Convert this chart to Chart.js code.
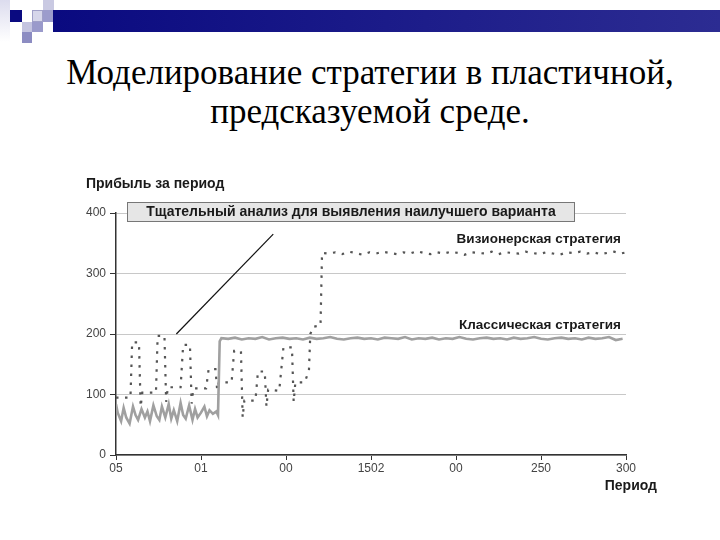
<!DOCTYPE html>
<html><head><meta charset="utf-8">
<script src="https://cdn.jsdelivr.net/npm/chart.js@4"></script>
<style>
html,body{margin:0;padding:0;background:#fff;width:720px;height:540px;overflow:hidden;position:relative;font-family:"Liberation Sans",Arial,sans-serif}
#wrap{position:absolute;left:0;top:0;width:720px;height:540px}
.sq{position:absolute}
#title{position:absolute;left:0;top:53px;width:740px;text-align:center;font-family:"Liberation Serif","Times New Roman",serif;font-size:35px;line-height:39px;color:#000}
</style></head>
<body>
<div class="sq" style="left:0;top:0;width:10px;height:42px;background:linear-gradient(#dcdcee,#ffffff)"></div>
<div class="sq" style="left:53px;top:10px;width:667px;height:22px;background:linear-gradient(90deg,#0a0a80,#2c2c92)"></div>
<div class="sq" style="left:10px;top:10px;width:12px;height:12px;background:#0a0a80"></div>
<div class="sq" style="left:43px;top:0;width:11px;height:10px;background:#c9c9e2"></div>
<div class="sq" style="left:32px;top:10px;width:11px;height:12px;background:#d6d6ea;box-sizing:border-box;border:1px solid #a0a0c8"></div>
<div class="sq" style="left:43px;top:10px;width:10px;height:12px;background:#9c9ccc"></div>
<div class="sq" style="left:22px;top:22px;width:10px;height:10px;background:#c4c4e0"></div>
<div class="sq" style="left:32px;top:22px;width:11px;height:10px;background:#9a9acb"></div>
<div class="sq" style="left:22px;top:32px;width:10px;height:11px;background:#8c8cc2"></div>
<div id="title">Моделирование стратегии в пластичной,<br>предсказуемой среде.</div>
<div id="wrap"><canvas id="c" width="720" height="540"></canvas></div>
<script>
const xTickLabels = ["05","01","00","1502","00","250","300"];
const yTickLabels = ["0","100","200","300","400"];

const classicX = [0,1,3,4.5,6,8,10,11.5,13,15,17,18.5,20,22,24,25.5,27,29,31,32.5,34,36,38,39.5,41,43,45,46.5,48,50,52,53.5,55,57,59,60,61,62,
66,70,74,78,82,86,90,94,98,102,106,110,114,118,122,126,130,134,138,142,146,150,154,158,162,166,170,174,178,182,186,190,194,198,202,206,210,214,218,222,226,230,234,238,242,246,250,254,258,262,266,270,274,278,282,286,290,294,298,300];
const classicY = [84,70,56,78,62,52,80,66,58,76,62,72,56,82,64,58,80,62,84,60,74,56,86,66,60,82,58,76,62,70,80,64,74,68,72,66,188,193,
192,194,191,193,192,195,191,193,194,192,193,191,194,192,193,195,192,191,193,194,192,193,191,194,193,192,195,191,193,192,194,191,193,192,195,192,191,193,194,192,193,191,194,192,193,195,192,191,193,194,192,193,191,194,192,193,195,190,192];

const visionX = [0,8.5,9.5,13.5,14.5,15.5,23.5,24.5,28.5,29.5,30.5,38,39.5,43.5,44.5,45.5,53,54.5,58.5,59.5,60.5,68,69.5,73.5,74.5,75.5,82,83.5,87.5,88.5,89.5,96,98.5,103.5,104.5,105.5,111,113.5,114.3,116,120.3,121.2,
125,129,133,137,141,145,149,153,157,161,165,169,173,177,181,185,189,193,197,201,205,209,213,217,221,225,229,233,237,241,245,249,253,257,261,265,269,273,277,281,285,289,293,297,300];
const visionY = [95,95,186,186,80,103,103,197,197,88,112,112,182,182,85,110,110,142,142,108,120,120,172,172,62,90,90,138,138,80,108,106,178,178,88,120,120,140,200,212,214,334,
333,335,332,336,334,331,335,333,336,334,332,335,333,337,334,332,335,333,336,334,331,335,334,333,336,332,335,334,333,336,334,332,335,333,331,335,334,336,333,335,332,334,336,333,335,334];

const annotLine = {x1:35.5, y1:200, x2:92.5, y2:365};

function pts(xs, ys){ return xs.map((x,i)=>({x:x,y:ys[i]})); }

const annot = {
  id:'annot',
  afterDatasetsDraw(chart){
    const ctx = chart.ctx, xs = chart.scales.x, ys = chart.scales.y;
    ctx.save();
    ctx.strokeStyle = '#111'; ctx.lineWidth = 1.2;
    ctx.beginPath();
    ctx.moveTo(xs.getPixelForValue(annotLine.x1), ys.getPixelForValue(annotLine.y1));
    ctx.lineTo(xs.getPixelForValue(annotLine.x2), ys.getPixelForValue(annotLine.y2));
    ctx.stroke();
    ctx.fillStyle = '#e6e6e6'; ctx.strokeStyle = '#777'; ctx.lineWidth = 1;
    ctx.fillRect(127.5, 202.5, 447, 19);
    ctx.strokeRect(127.5, 202.5, 447, 19);
    ctx.fillStyle = '#1a1a1a';
    ctx.font = 'bold 14px "Liberation Sans", Arial, sans-serif';
    ctx.textAlign = 'center'; ctx.textBaseline = 'middle';
    ctx.fillText('Тщательный анализ для выявления наилучшего варианта', 351, 212.5);
    ctx.textAlign = 'right';
    ctx.font = 'bold 13.5px "Liberation Sans", Arial, sans-serif';
    ctx.fillText('Визионерская стратегия', 621, 239);
    ctx.fillText('Классическая стратегия', 621, 325);
    ctx.textAlign = 'left';
    ctx.font = 'bold 14px "Liberation Sans", Arial, sans-serif';
    ctx.fillText('Прибыль за период', 86, 184);
    ctx.textAlign = 'right';
    ctx.fillText('Период', 657, 486);
    ctx.restore();
  }
};

new Chart(document.getElementById('c'), {
  type:'line',
  data:{datasets:[
    {label:'Классическая стратегия', data:pts(classicX,classicY), borderColor:'#a0a0a0', borderWidth:2.6, pointRadius:0, tension:0, fill:false},
    {label:'Визионерская стратегия', data:pts(visionX,visionY), borderColor:'#555', borderWidth:2.2, borderDash:[2.5,6.5], pointRadius:0, tension:0, fill:false}
  ]},
  options:{
    responsive:false, animation:false, events:[],
    layout:{padding:{left:70, right:94, top:213, bottom:65}},
    plugins:{legend:{display:false}, tooltip:{enabled:false}, title:{display:false}},
    scales:{
      x:{type:'linear', min:0, max:300,
         afterFit(s){ s.height = 20; },
         ticks:{stepSize:50, padding:1, color:'#444', font:{family:'"Liberation Sans", Arial, sans-serif', size:12},
           callback:(v,i)=>xTickLabels[i]},
         grid:{drawOnChartArea:false, drawTicks:true, tickLength:5, tickColor:'#333'},
         border:{color:'#333', width:1.5}},
      y:{type:'linear', min:0, max:400,
         afterFit(s){ s.width = 46; },
         ticks:{stepSize:100, padding:4, color:'#444', font:{family:'"Liberation Sans", Arial, sans-serif', size:12},
           callback:(v,i)=>yTickLabels[i]},
         grid:{color:'#c8c8c8', lineWidth:1, tickLength:6, tickColor:'#333'},
         border:{color:'#333', width:1.5}}
    }
  },
  plugins:[annot]
});
</script>
</body></html>
